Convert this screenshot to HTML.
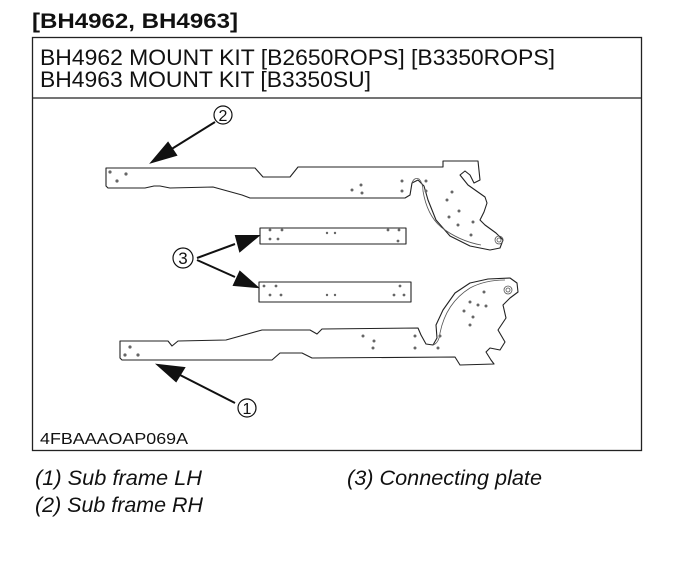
<!DOCTYPE html>
<html><head><style>
html,body{margin:0;padding:0;background:#fff;width:675px;height:562px;overflow:hidden}
svg{display:block}
text{font-family:"Liberation Sans",sans-serif;fill:#111}
</style></head><body>
<svg width="675" height="562" viewBox="0 0 675 562" xmlns="http://www.w3.org/2000/svg">
<text x="32" y="28" font-size="21" font-weight="bold" textLength="206" lengthAdjust="spacingAndGlyphs">[BH4962, BH4963]</text>
<rect x="32.5" y="37.5" width="609" height="413" fill="none" stroke="#222" stroke-width="1.3"/>
<line x1="32" y1="98" x2="642" y2="98" stroke="#222" stroke-width="1.3"/>
<text x="40" y="65" font-size="22" textLength="515" lengthAdjust="spacingAndGlyphs">BH4962 MOUNT KIT [B2650ROPS] [B3350ROPS]</text>
<text x="40" y="87" font-size="22" textLength="331" lengthAdjust="spacingAndGlyphs">BH4963 MOUNT KIT [B3350SU]</text>
<text x="40" y="444" font-size="16" textLength="148" lengthAdjust="spacingAndGlyphs">4FBAAAOAP069A</text>
<text x="35" y="485" font-size="21" font-style="italic" textLength="167" lengthAdjust="spacingAndGlyphs">(1) Sub frame LH</text>
<text x="35" y="512" font-size="21" font-style="italic" textLength="168" lengthAdjust="spacingAndGlyphs">(2) Sub frame RH</text>
<text x="347" y="485" font-size="21" font-style="italic" textLength="195" lengthAdjust="spacingAndGlyphs">(3) Connecting plate</text>

<g fill="#fff" stroke="#222" stroke-width="1.1" stroke-linejoin="round">
<path d="M106,168 L255,168 L263,177 L290,177 L298,167 L443,167 L443,161 L478,161 L480,180 L474,183 L470,175 L465,171 L460,175 L468,185 L485,197 L487,203 L484,212 L480,220 L485,225 L496,233 L503,240 L500,248 L490,250 L470,246 L450,236 L436,220 L428,200 L424,186 L418,180 L412,183 L410,195 L405,198 L250,198 L242,195 L213,187 L170,188 L160,186 L154,186 L145,188 L108,188 L106,186 Z"/>
<rect x="260" y="228" width="146" height="16"/>
<rect x="259" y="282" width="152" height="20"/>
<path d="M120,341 L168,341 L172,346 L178,341 L226,340 L262,330 L310,330 L317,334 L322,329 L418,328 L421,335 L426,344 L433,345 L437,338 L436,325 L443,310 L455,293 L470,283 L488,279 L510,278 L517,283 L518,292 L510,298 L503,305 L506,318 L498,330 L505,342 L500,350 L490,348 L486,352 L491,360 L494,364 L460,365 L455,357 L312,358 L302,353 L280,353 L272,360 L180,360 L122,360 L120,358 Z"/>
</g>
<g fill="none" stroke="#555" stroke-width="0.8">
<circle cx="499" cy="240" r="4"/><circle cx="499" cy="240" r="2"/>
<circle cx="508" cy="290" r="4"/><circle cx="508" cy="290" r="2"/>
<path d="M412,183 q2,-6 7,-4 q4,4 4,12 q4,24 18,36 q18,14 40,18"/>
<path d="M433,345 q6,-2 7,-12 q6,-30 30,-45 q15,-8 35,-8"/>
</g>
<g fill="#666">
<circle cx="110" cy="172" r="1.6"/><circle cx="126" cy="174" r="1.6"/><circle cx="117" cy="181" r="1.6"/>
<circle cx="352" cy="190" r="1.5"/><circle cx="361" cy="185" r="1.5"/><circle cx="362" cy="193" r="1.5"/>
<circle cx="402" cy="181" r="1.5"/><circle cx="402" cy="191" r="1.5"/><circle cx="426" cy="181" r="1.5"/><circle cx="426" cy="191" r="1.5"/>
<circle cx="452" cy="192" r="1.5"/><circle cx="447" cy="200" r="1.5"/><circle cx="459" cy="211" r="1.5"/><circle cx="449" cy="217" r="1.5"/><circle cx="458" cy="225" r="1.5"/><circle cx="473" cy="222" r="1.5"/><circle cx="471" cy="235" r="1.5"/>
<circle cx="270" cy="230" r="1.4"/><circle cx="282" cy="230" r="1.4"/><circle cx="270" cy="239" r="1.4"/><circle cx="278" cy="239" r="1.4"/><circle cx="327" cy="233" r="1.2"/><circle cx="335" cy="233" r="1.2"/><circle cx="388" cy="230" r="1.4"/><circle cx="399" cy="230" r="1.4"/><circle cx="398" cy="241" r="1.4"/>
<circle cx="264" cy="286" r="1.4"/><circle cx="276" cy="286" r="1.4"/><circle cx="270" cy="295" r="1.4"/><circle cx="281" cy="295" r="1.4"/><circle cx="327" cy="295" r="1.2"/><circle cx="335" cy="295" r="1.2"/><circle cx="400" cy="286" r="1.4"/><circle cx="394" cy="295" r="1.4"/><circle cx="404" cy="295" r="1.4"/>
<circle cx="130" cy="347" r="1.6"/><circle cx="125" cy="355" r="1.6"/><circle cx="138" cy="355" r="1.6"/>
<circle cx="363" cy="336" r="1.5"/><circle cx="374" cy="341" r="1.5"/><circle cx="373" cy="348" r="1.5"/>
<circle cx="415" cy="336" r="1.5"/><circle cx="415" cy="348" r="1.5"/><circle cx="440" cy="336" r="1.5"/><circle cx="438" cy="348" r="1.5"/>
<circle cx="470" cy="325" r="1.5"/><circle cx="464" cy="311" r="1.5"/><circle cx="470" cy="302" r="1.5"/><circle cx="478" cy="305" r="1.5"/><circle cx="486" cy="306" r="1.5"/><circle cx="484" cy="292" r="1.5"/><circle cx="473" cy="317" r="1.5"/>
</g>

<g stroke="#111" stroke-width="2" fill="#111">
<line x1="215" y1="122" x2="170" y2="150"/>
<polygon points="152,162 168,143 176,155"/>
<line x1="197" y1="258" x2="235" y2="244"/>
<polygon points="258,236 236,236 240,251"/>
<line x1="197" y1="260" x2="235" y2="277"/>
<polygon points="257,287 240,272 234,285"/>
<line x1="235" y1="403" x2="180" y2="375"/>
<polygon points="158,365 184,368 176,381"/>
</g>
<g fill="#fff" stroke="#111" stroke-width="1.2">
<circle cx="223" cy="115" r="9"/>
<circle cx="183" cy="258" r="10"/>
<circle cx="247" cy="408" r="9"/>
</g>
<text x="223" y="121" font-size="16" text-anchor="middle">2</text>
<text x="183" y="264" font-size="17" text-anchor="middle">3</text>
<text x="247" y="414" font-size="16" text-anchor="middle">1</text>
</svg>
</body></html>
